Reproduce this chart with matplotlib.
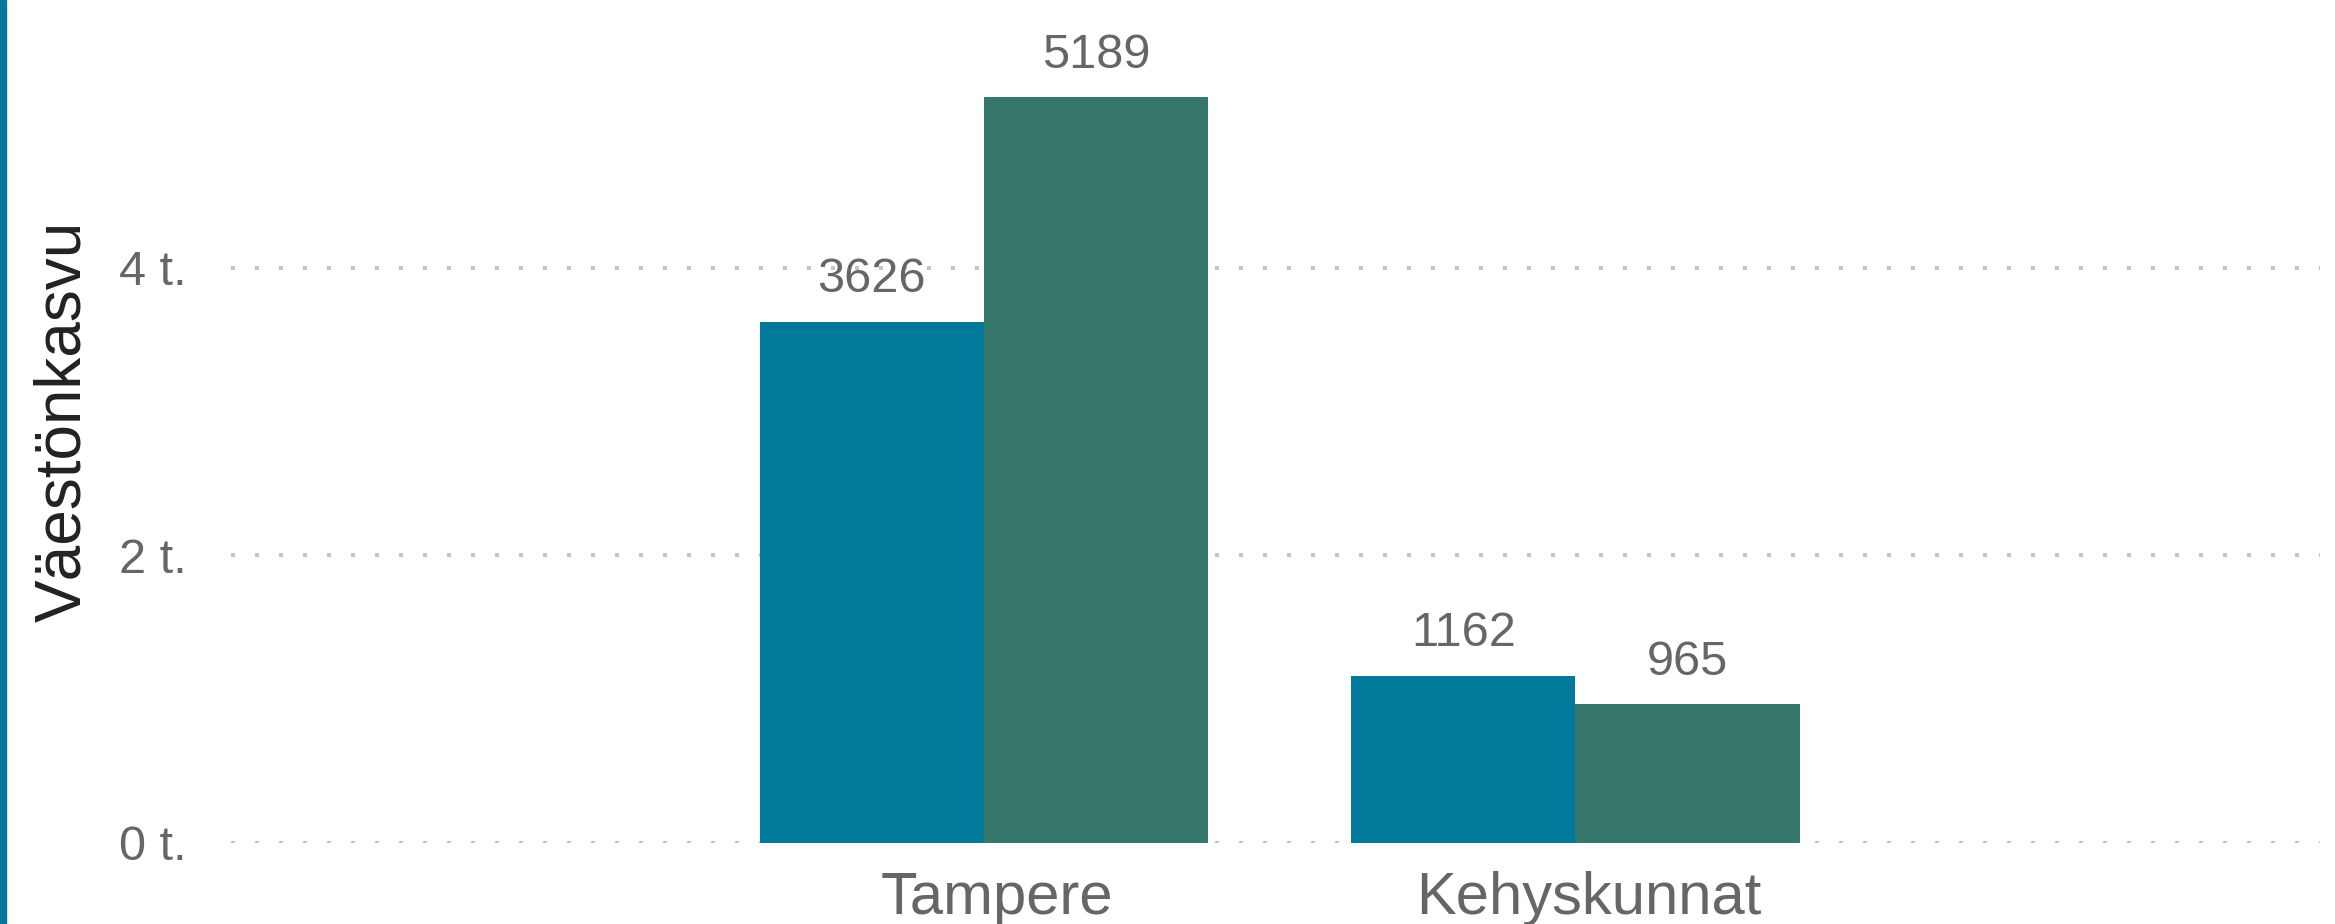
# Väestönkasvu: Tampere vs Kehyskunnat
import numpy as np
import matplotlib.pyplot as plt
from matplotlib.transforms import ScaledTranslation

# Data
categories = ['Tampere', 'Kehyskunnat']
series_a = [3626, 1162]
series_b = [5189, 965]
yticks = [0, 2000, 4000]
ytick_labels = ['0 t.', '2 t.', '4 t.']

color_a = '#01799a'
color_b = '#37766a'
text_grey = '#666666'

plt.rcParams['font.family'] = ['Liberation Sans', 'DejaVu Sans']

fig = plt.figure(figsize=(23.35, 9.24), dpi=100)
ax = fig.add_axes([0.0989, 0.0877, 0.8947, 0.9123])

x = np.arange(len(categories))
width = 0.379
bars_a = ax.bar(x - width / 2, series_a, width, color=color_a, zorder=2)
bars_b = ax.bar(x + width / 2, series_b, width, color=color_b, zorder=2)

# Value labels above the bars
for bars in (bars_a, bars_b):
    for b in bars:
        ax.annotate(str(int(b.get_height())),
                    (b.get_x() + b.get_width() / 2, b.get_height()),
                    xytext=(0, 14), textcoords='offset points',
                    ha='center', va='bottom', fontsize=35, color=text_grey)

ax.set_xlim(-1.273, 2.259)
ax.set_ylim(0, 5864)
ax.set_yticks(yticks)
ax.set_yticklabels(ytick_labels)
ax.set_xticks(x)
ax.set_xticklabels(categories)

ax.tick_params(axis='y', length=0, pad=32, labelsize=35, labelcolor=text_grey)
ax.tick_params(axis='x', length=0, pad=20, labelsize=43, labelcolor=text_grey)

# x labels sit slightly right of the group centre in the original
shift = ScaledTranslation(13 / 100, 0, fig.dpi_scale_trans)
for lab in ax.get_xticklabels():
    lab.set_transform(lab.get_transform() + shift)

ax.grid(axis='y', color='#c4c4c4', linestyle=(0, (1, 5)), linewidth=2.88,
        dash_capstyle='butt', zorder=0)
ax.set_axisbelow(True)
for s in ax.spines.values():
    s.set_visible(False)

ax.set_ylabel('Väestönkasvu', fontsize=46, color='#222222')
ax.yaxis.set_label_coords(-0.066, 0.5)

# Blue stripe on the left edge
fig.patches.append(plt.Rectangle((0, 0), 6 / 2335, 1, transform=fig.transFigure,
                                 color=color_a, zorder=5))

fig.savefig('out.png', dpi=100)
